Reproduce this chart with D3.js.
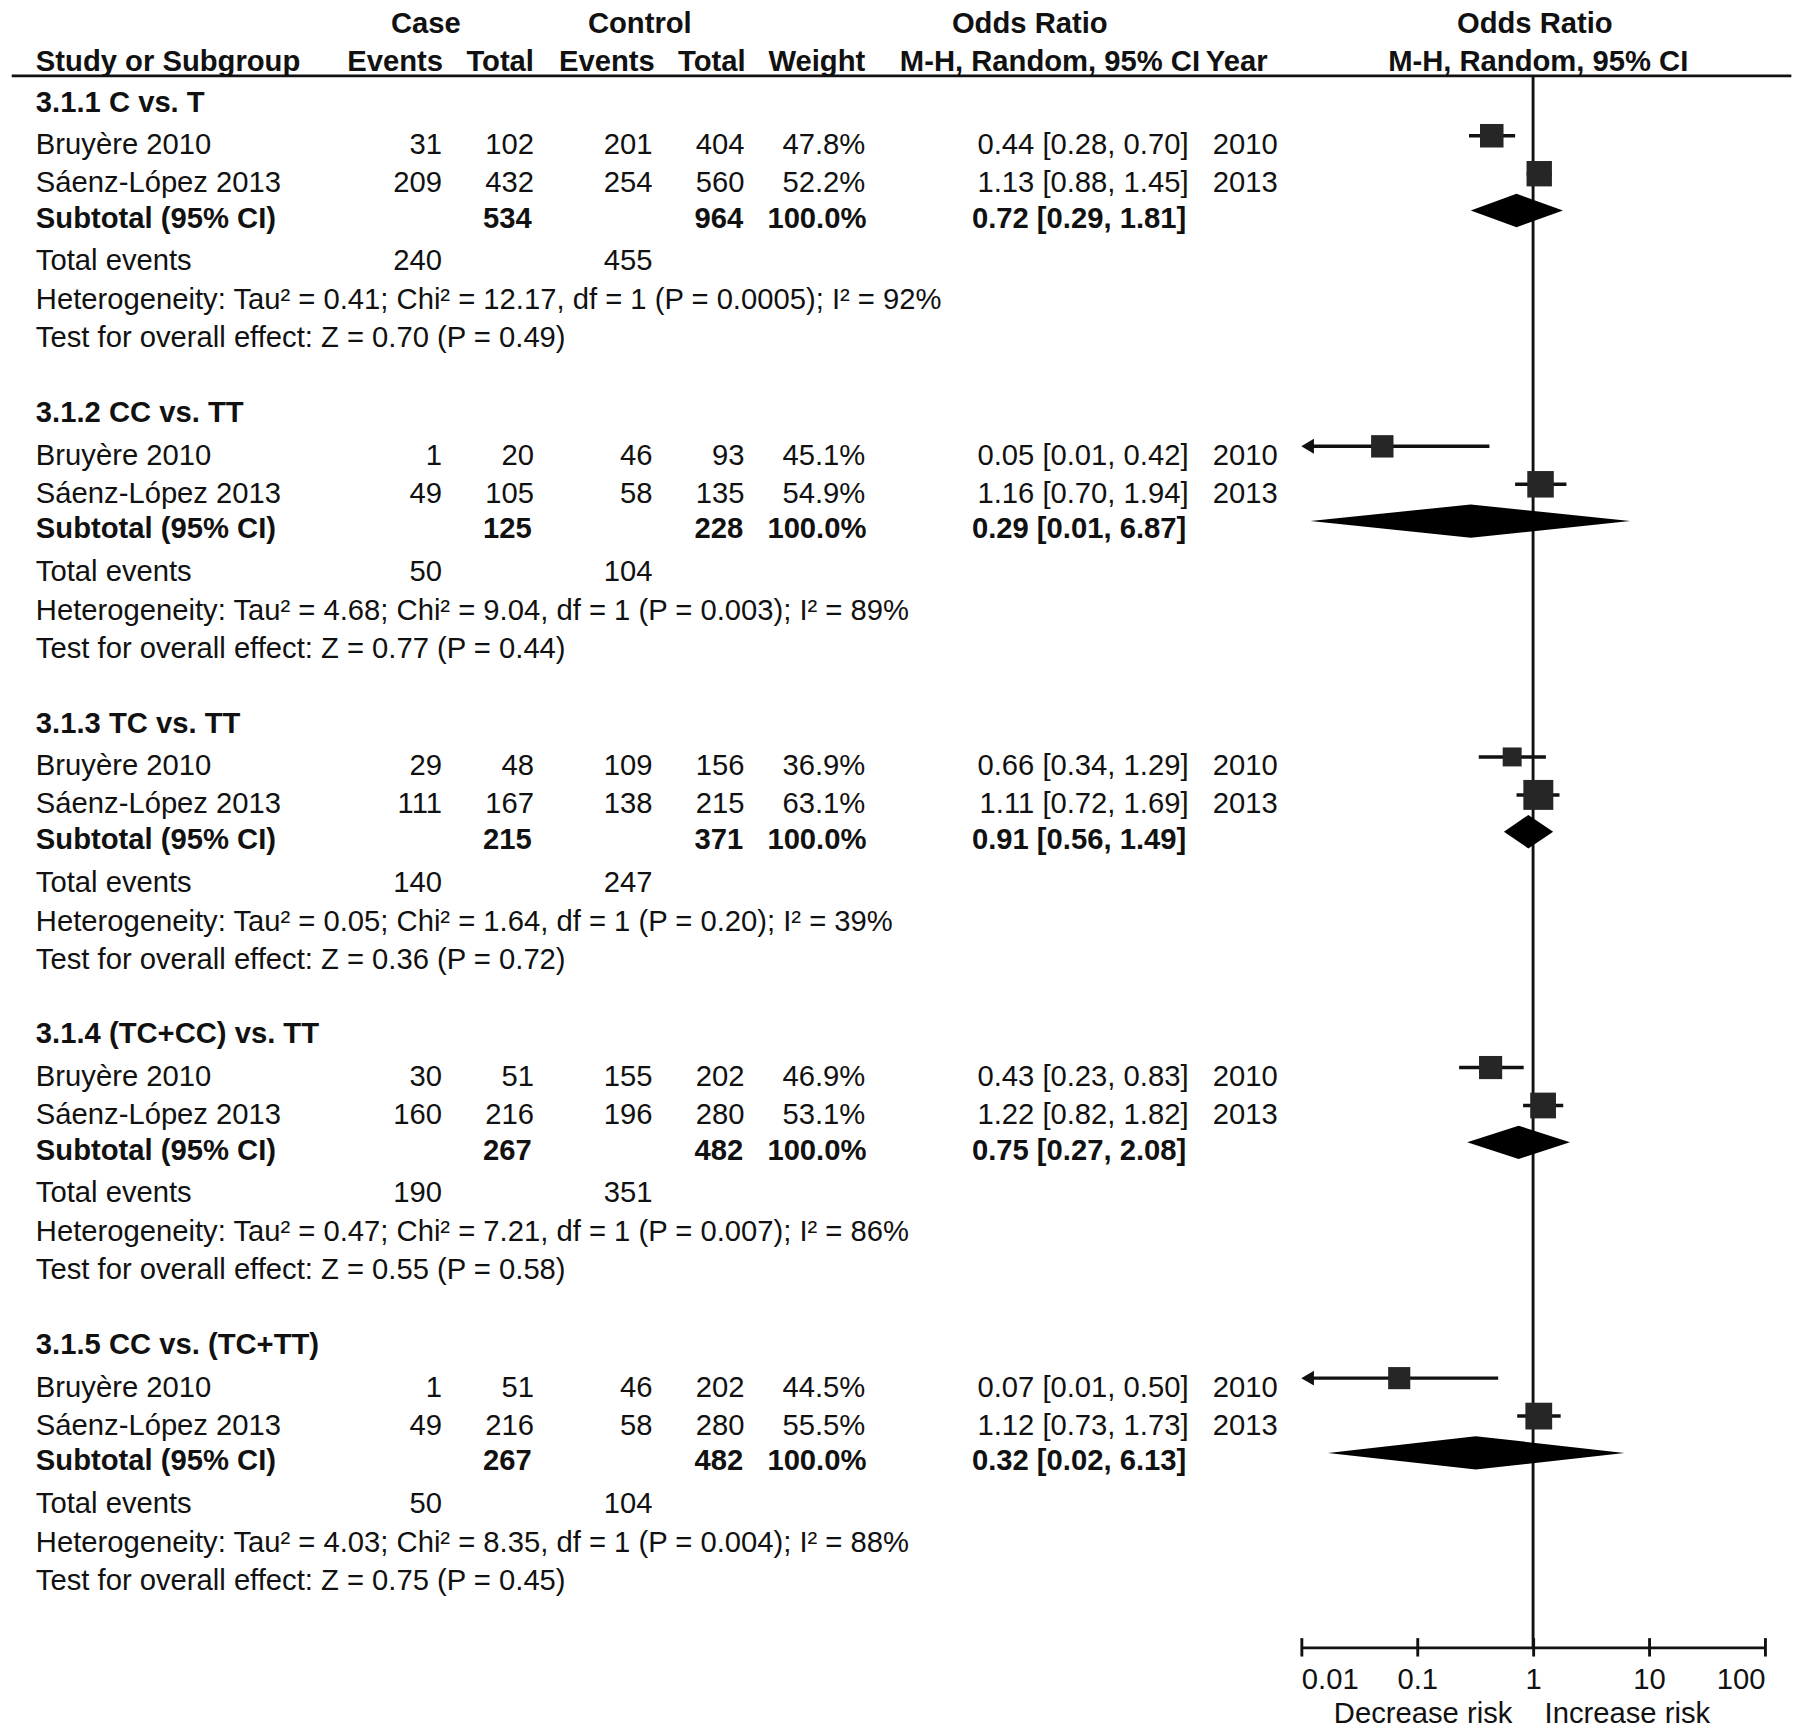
<!DOCTYPE html>
<html>
<head>
<meta charset="utf-8">
<script src="https://cdn.jsdelivr.net/npm/d3@7/dist/d3.min.js"></script>
<style>
  body { margin: 0; background: #fff; }
  svg text { font-family: "Liberation Sans", Arial, sans-serif; fill: #111; }
</style>
</head>
<body>
<div id="graph-area"></div>
<script>
// table values
var subgroups = ["3.1.1 C vs. T", "3.1.2 CC vs. TT", "3.1.3 TC vs. TT", "3.1.4 (TC+CC) vs. TT", "3.1.5 CC vs. (TC+TT)"];
var studies = ["Bruyère 2010", "Sáenz-López 2013"];
var years = ["2010", "2013"];
var caseEvents = [[31, 209], [1, 49], [29, 111], [30, 160], [1, 49]];
var caseTotals = [[102, 432], [20, 105], [48, 167], [51, 216], [51, 216]];
var ctrlEvents = [[201, 254], [46, 58], [109, 138], [155, 196], [46, 58]];
var ctrlTotals = [[404, 560], [93, 135], [156, 215], [202, 280], [202, 280]];
var weights = [[47.8, 52.2], [45.1, 54.9], [36.9, 63.1], [46.9, 53.1], [44.5, 55.5]];
var oddsRatios = [[0.44, 1.13], [0.05, 1.16], [0.66, 1.11], [0.43, 1.22], [0.07, 1.12]];
var ciLower = [[0.28, 0.88], [0.006, 0.70], [0.34, 0.72], [0.23, 0.82], [0.008, 0.73]];
var ciUpper = [[0.70, 1.45], [0.42, 1.94], [1.29, 1.69], [0.83, 1.82], [0.50, 1.73]];
var subtotalOR = [0.72, 0.29, 0.91, 0.75, 0.32];
var subtotalLower = [0.29, 0.012, 0.56, 0.27, 0.017];
var subtotalUpper = [1.81, 6.87, 1.49, 2.08, 6.13];
var heterogeneity = [
  "Heterogeneity: Tau² = 0.41; Chi² = 12.17, df = 1 (P = 0.0005); I² = 92%",
  "Heterogeneity: Tau² = 4.68; Chi² = 9.04, df = 1 (P = 0.003); I² = 89%",
  "Heterogeneity: Tau² = 0.05; Chi² = 1.64, df = 1 (P = 0.20); I² = 39%",
  "Heterogeneity: Tau² = 0.47; Chi² = 7.21, df = 1 (P = 0.007); I² = 86%",
  "Heterogeneity: Tau² = 4.03; Chi² = 8.35, df = 1 (P = 0.004); I² = 88%"
];
var overallEffect = [
  "Test for overall effect: Z = 0.70 (P = 0.49)",
  "Test for overall effect: Z = 0.77 (P = 0.44)",
  "Test for overall effect: Z = 0.36 (P = 0.72)",
  "Test for overall effect: Z = 0.55 (P = 0.58)",
  "Test for overall effect: Z = 0.75 (P = 0.45)"
];
var axisTicks = [0.01, 0.1, 1, 10, 100];
var axisTickLabels = ["0.01", "0.1", "1", "10", "100"];

// drawing works in the figure's own units, scaled up to the window
var W = 1560, H = 1503;
var fontSize = 25.4;
var groupTop = 97;      // baseline of first subgroup title
var groupStep = 270;
var rowOffsets = {title: 0, s0: 37, s1: 70, subtotal: 101, events: 138, het: 172, test: 205};
var markLift = 16;       // study marks sit a bit above text middle
var diamondLift = 15;
var axisY = 1432;

var fmt = d3.format(".2f");

var svg = d3.select('#graph-area')
  .append('svg')
  .attr('width', 1795)
  .attr('height', 1729)
  .attr('viewBox', '0 0 ' + W + ' ' + H);

var g = svg.append('g');

var x = d3.scaleLog().domain([0.01, 100]).range([1131, 1534]);
var squareSide = d3.scaleLinear().domain([0, 100]).range([3.0, 39.5]);

function addText(px, py, str, anchor, bold){
  return g.append('text')
    .attr('x', px)
    .attr('y', py)
    .attr('text-anchor', anchor || 'start')
    .style('font-size', fontSize + 'px')
    .style('font-weight', bold ? 'bold' : 'normal')
    .text(str);
}

// header
addText(370, 29, "Case", 'middle', true);
addText(556, 29, "Control", 'middle', true);
addText(895, 29, "Odds Ratio", 'middle', true);
addText(1334, 29, "Odds Ratio", 'middle', true);
addText(31, 62, "Study or Subgroup", 'start', true);
addText(385, 62, "Events", 'end', true);
addText(464, 62, "Total", 'end', true);
addText(569, 62, "Events", 'end', true);
addText(648, 62, "Total", 'end', true);
addText(752, 62, "Weight", 'end', true);
addText(1043, 62, "M-H, Random, 95% CI", 'end', true);
addText(1048, 62, "Year", 'start', true);
addText(1337, 62, "M-H, Random, 95% CI", 'middle', true);

g.append('line')
  .attr('x1', 10).attr('x2', 1557)
  .attr('y1', 66).attr('y2', 66)
  .attr('stroke', '#111').attr('stroke-width', 2.5);

// line of no effect
g.append('line')
  .attr('x1', x(1)).attr('x2', x(1))
  .attr('y1', 66).attr('y2', axisY)
  .attr('stroke', '#111').attr('stroke-width', 2.5);

var cols = {caseEv: 384, caseTot: 464, ctrlEv: 567, ctrlTot: 647, weight: 752, or: 1033, year: 1054};

subgroups.forEach(function(name, gi){
  var base = groupTop + gi * groupStep;
  addText(31, base + rowOffsets.title, name, 'start', true);

  studies.forEach(function(study, si){
    var y = base + rowOffsets['s' + si];
    addText(31, y, study);
    addText(cols.caseEv, y, caseEvents[gi][si], 'end');
    addText(cols.caseTot, y, caseTotals[gi][si], 'end');
    addText(cols.ctrlEv, y, ctrlEvents[gi][si], 'end');
    addText(cols.ctrlTot, y, ctrlTotals[gi][si], 'end');
    addText(cols.weight, y, weights[gi][si].toFixed(1) + "%", 'end');
    addText(cols.or, y, fmt(oddsRatios[gi][si]) + " [" + fmt(ciLower[gi][si]) + ", " + fmt(ciUpper[gi][si]) + "]", 'end');
    addText(cols.year, y, years[si]);

    // confidence interval and weight square
    var my = y - markLift;
    var lo = ciLower[gi][si];
    var clipped = lo < x.domain()[0];
    var x0 = clipped ? x.range()[0] + 10 : x(lo);
    g.append('line')
      .attr('x1', x0).attr('x2', x(ciUpper[gi][si]))
      .attr('y1', my).attr('y2', my)
      .attr('stroke', '#111').attr('stroke-width', 3);
    if(clipped){
      var ax = x.range()[0];
      g.append('path')
        .attr('d', 'M' + ax + ',' + my + 'L' + (ax + 11) + ',' + (my - 6.5) + 'L' + (ax + 11) + ',' + (my + 6.5) + 'Z')
        .attr('fill', '#111');
    }
    var s = squareSide(weights[gi][si]);
    g.append('rect')
      .attr('x', x(oddsRatios[gi][si]) - s / 2)
      .attr('y', my - s / 2)
      .attr('width', s).attr('height', s)
      .attr('fill', '#262626');
  });

  var ys = base + rowOffsets.subtotal;
  addText(31, ys, "Subtotal (95% CI)", 'start', true);
  addText(cols.caseTot - 2, ys, d3.sum(caseTotals[gi]), 'end', true);
  addText(cols.ctrlTot - 1, ys, d3.sum(ctrlTotals[gi]), 'end', true);
  addText(cols.weight + 1, ys, "100.0%", 'end', true);
  addText(cols.or - 2, ys, fmt(subtotalOR[gi]) + " [" + fmt(subtotalLower[gi]) + ", " + fmt(subtotalUpper[gi]) + "]", 'end', true);

  var dy = ys - diamondLift;
  var dh = 14.5;
  g.append('path')
    .attr('d', 'M' + x(subtotalLower[gi]) + ',' + dy +
               'L' + x(subtotalOR[gi]) + ',' + (dy - dh) +
               'L' + x(subtotalUpper[gi]) + ',' + dy +
               'L' + x(subtotalOR[gi]) + ',' + (dy + dh) + 'Z')
    .attr('fill', '#000');

  var ye = base + rowOffsets.events;
  addText(31, ye, "Total events");
  addText(cols.caseEv, ye, d3.sum(caseEvents[gi]), 'end');
  addText(cols.ctrlEv, ye, d3.sum(ctrlEvents[gi]), 'end');

  addText(31, base + rowOffsets.het, heterogeneity[gi]);
  addText(31, base + rowOffsets.test, overallEffect[gi]);
});

// log axis
var axis = d3.axisBottom(x)
  .tickValues(axisTicks)
  .tickFormat(function(d, i){ return axisTickLabels[i]; })
  .tickSize(8)
  .tickSizeOuter(0);

var axisG = g.append('g')
  .attr('transform', 'translate(0,' + axisY + ')')
  .call(axis);
axisG.select('.domain').attr('stroke', '#111').attr('stroke-width', 2.5);
axisG.selectAll('.tick line').attr('y1', -8).attr('y2', 8).attr('stroke', '#111').attr('stroke-width', 2.5);
axisG.selectAll('.tick text')
  .attr('y', 36).attr('dy', 0)
  .style('font-size', fontSize + 'px')
  .style('font-family', '"Liberation Sans", Arial, sans-serif')
  .attr('fill', '#111')
  .attr('text-anchor', function(d, i){
    if(i === 0) return 'start';
    if(i === axisTicks.length - 1) return 'end';
    return 'middle';
  });

addText(x(1) - 18, 1498, "Decrease risk", 'end');
addText(x(1) + 10, 1498, "Increase risk", 'start');
</script>
</body>
</html>
